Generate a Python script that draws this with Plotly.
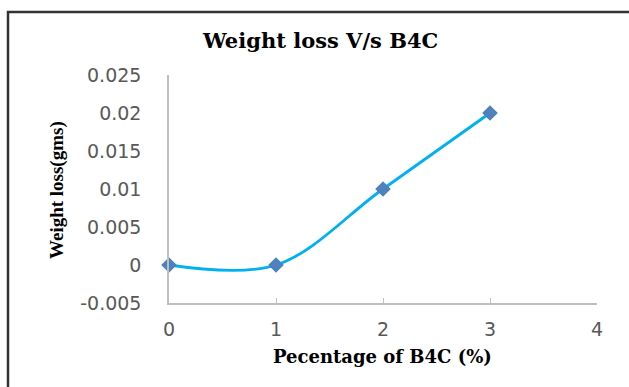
import plotly.graph_objects as go

b4c_pct = [0, 1, 2, 3]
weight_loss = [0, 0, 0.01, 0.02]
y_ticks = [-0.005, 0, 0.005, 0.01, 0.015, 0.02, 0.025]
y_tick_text = ["-0.005", "0", "0.005", "0.01", "0.015", "0.02", "0.025"]
x_ticks = [0, 1, 2, 3, 4]

# plot area wanted at page px x 169..597, y 75..303 (body margin removed)
L, R, T, B = 169, 629 - 597, 75, 387 - 303
PW, PH = 597 - 169, 303 - 75


def px(xp):
    return (xp - 169) / PW


def py(yp):
    return (303 - yp) / PH


fig = go.Figure()
fig.add_trace(go.Scatter(
    x=b4c_pct, y=weight_loss, mode="lines+markers",
    line=dict(color="#00B0F0", width=2.8, shape="spline", smoothing=1.0),
    marker=dict(symbol="diamond", size=12, color="#4F81BD"),
    showlegend=False, cliponaxis=False,
))

tick_font = dict(family="DejaVu Sans", size=19, color="#595959")
fig.update_layout(
    width=629, height=387,
    margin=dict(l=L, r=R, t=T, b=B),
    paper_bgcolor="white", plot_bgcolor="white",
    xaxis=dict(range=[0, 4], tickvals=x_ticks, showgrid=False, zeroline=False,
               showline=True, linecolor="#BFBFBF", linewidth=1.5,
               ticks="inside", ticklen=5, tickcolor="#BFBFBF",
               tickfont=tick_font, ticklabelstandoff=8, automargin=False),
    yaxis=dict(range=[-0.005, 0.025], tickvals=y_ticks, ticktext=y_tick_text,
               showgrid=False, zeroline=False,
               showline=True, linecolor="#BFBFBF", linewidth=1.5, ticks="",
               tickfont=tick_font, ticklabelstandoff=22, automargin=False),
    shapes=[dict(type="rect", xref="paper", yref="paper",
                 x0=px(8), x1=px(660), y0=py(410), y1=py(12),
                 line=dict(color="#333333", width=2.5), fillcolor="rgba(0,0,0,0)")],
    annotations=[
        dict(text="<b>Weight loss V/s B4C</b>", xref="paper", yref="paper",
             x=px(320), y=py(40), showarrow=False,
             xanchor="center", yanchor="middle",
             font=dict(family="DejaVu Serif", size=21, color="black")),
        dict(text="<b>Pecentage of B4C (%)</b>", xref="paper", yref="paper",
             x=px(382), y=py(356), showarrow=False,
             xanchor="center", yanchor="middle",
             font=dict(family="DejaVu Serif", size=18, color="black")),
        dict(text="<b>Weight loss(gms)</b>", xref="paper", yref="paper",
             x=px(57), y=py(190), showarrow=False, textangle=-90,
             xanchor="center", yanchor="middle",
             font=dict(family="Liberation Serif", size=19, color="black")),
    ],
)

fig.write_html(
    "out.html",
    config={"displayModeBar": False},
    post_script="document.body.style.margin='0';document.body.style.overflow='hidden';",
)
